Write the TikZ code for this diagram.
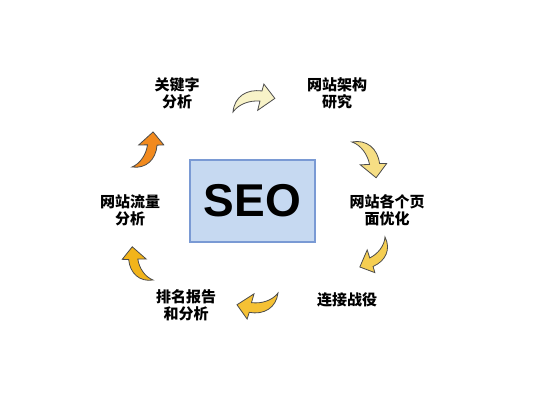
\documentclass[tikz,border=0pt]{standalone}
\usepackage{fontspec}
\newfontfamily\cjk{Noto Sans CJK SC}
\newfontfamily\seofont{Liberation Sans}
\usepackage{tikz}
\definecolor{seofill}{RGB}{198,217,241}
\definecolor{seoline}{RGB}{122,154,212}
\definecolor{arrowA}{RGB}{248,243,200}
\definecolor{arrowB}{RGB}{246,222,132}
\definecolor{arrowC}{RGB}{245,206,82}
\definecolor{arrowD}{RGB}{245,193,52}
\definecolor{arrowE}{RGB}{242,180,26}
\definecolor{arrowF}{RGB}{242,138,30}
\tikzstyle{seobox} = [rectangle, draw=seoline, line width=1.2, fill=seofill,
minimum width=125, minimum height=82, font=\seofont\bfseries\fontsize{46}{46}\selectfont]
\tikzstyle{stagetext} = [align=center, inner sep=0,
font=\cjk\bfseries\fontsize{15}{17}\selectfont]
\tikzstyle{arrowline} = [draw=black!70, line width=0.8]
\newcommand{\bentarrow}[4][]{%
  \filldraw[arrowline, fill=#4, shift={#2}, rotate=#3, #1]
    (0,0) .. controls (8,6) and (20,6) .. (29,2) -- (24,-6) -- (44,0) -- (38,17) -- (34,11)
    .. controls (20,18) and (6,14) .. (0,0) -- cycle;}

\begin{document}
\begin{tikzpicture}[x=1pt, y=1pt]
	\useasboundingbox (0,0) rectangle (548,400);
	\fill [white] (0,0) rectangle (548,400);
	\node [seobox] at (252.5,199) (SEO) {SEO};
	\node [stagetext] at (177,306.5) (keyword) {关键字\\分析};
	\node [stagetext] at (337,306.5) (structure) {网站架构\\研究};
	\node [stagetext] at (387,189.5) (pages) {网站各个页\\面优化};
	\node [stagetext] at (347,100) (links) {连接战役};
	\node [stagetext] at (186,95) (ranking) {排名报告\\和分析};
	\node [stagetext] at (130,189.5) (traffic) {网站流量\\分析};
	\bentarrow{(233,288)}{18}{arrowA}
	\bentarrow[scale=0.98]{(352,258)}{-56}{arrowB}
	\bentarrow[scale=0.89]{(385,163)}{-130}{arrowC}
	\bentarrow[scale=0.97]{(278,107)}{196}{arrowD}
	\bentarrow[scale=0.89]{(153,120)}{122}{arrowE}
	\bentarrow[scale=0.93, yscale=-1]{(132,233)}{59}{arrowF}
\end{tikzpicture}
\end{document}
